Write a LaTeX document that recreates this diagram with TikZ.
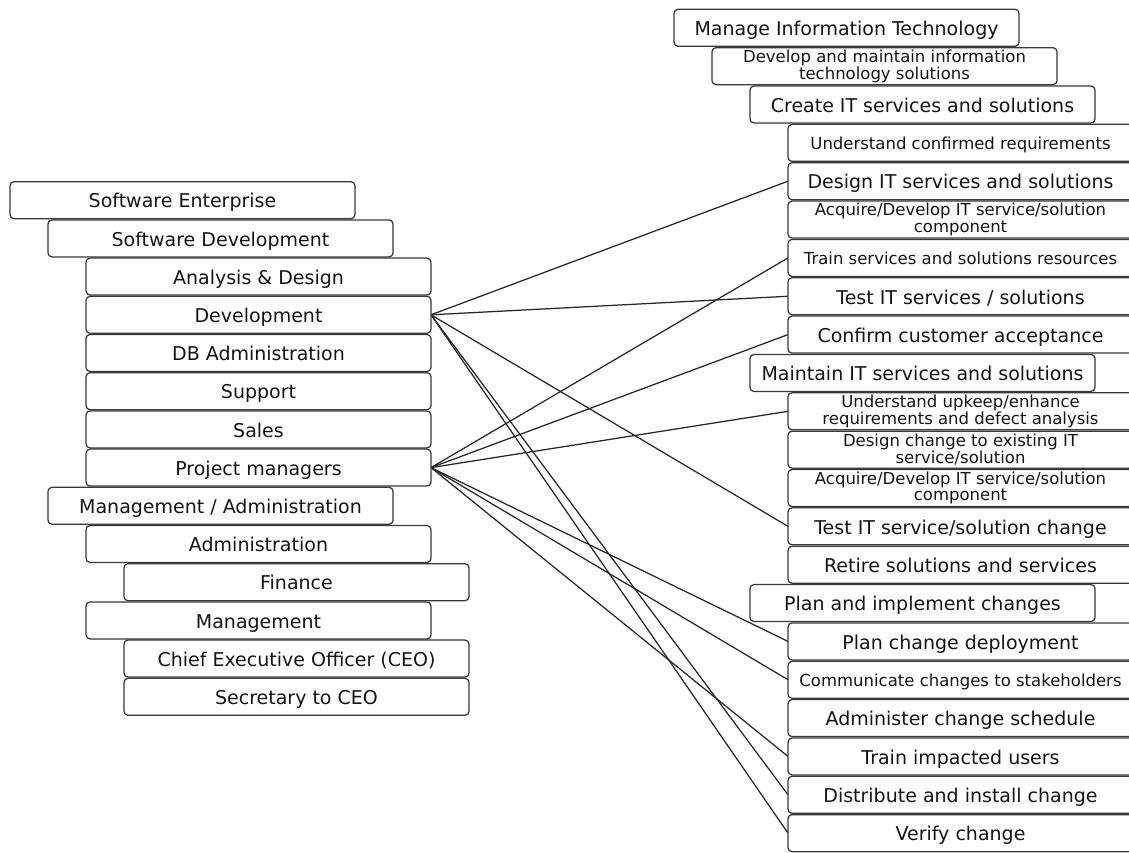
\documentclass[tikz,border=0pt]{standalone}
\usepackage{fontspec}
\setmainfont{DejaVu Sans}
\usetikzlibrary{backgrounds}
\definecolor{boxline}{HTML}{383838}
\definecolor{textcol}{HTML}{141414}
\definecolor{linecol}{HTML}{262626}
\begin{document}
\begin{tikzpicture}[x=1pt,y=-1pt,
  box/.style={draw=boxline, fill=white, rounded corners=4pt, line width=1.25pt,
    minimum width=345pt, minimum height=37pt, inner sep=0pt, outer sep=0pt,
    anchor=north west, align=center, text=textcol,
    font=\fontsize{19}{21}\selectfont},
  one/.style={box, text height=15.5pt, text depth=0pt},
  onesmall/.style={box, font=\fontsize{16.5}{17}\selectfont, text height=13pt, text depth=0pt},
  two/.style={box, font=\fontsize{16.5}{16.8}\selectfont},
  link/.style={draw=linecol, line width=1.25pt}]
\useasboundingbox (0,0) rectangle (1129,852);
\clip (0,0) rectangle (1129,852);

% organisation units (left)
\newcommand{\lrow}[1]{181.7+38.2*#1}
\node[one] (se)   at (10,  {\lrow{0}})  {Software Enterprise};
\node[one] (sd)   at (48,  {\lrow{1}})  {Software Development};
\node[one] (ad)   at (86,  {\lrow{2}})  {Analysis \& Design};
\node[one] (dev)  at (86,  {\lrow{3}})  {Development};
\node[one] (db)   at (86,  {\lrow{4}})  {DB Administration};
\node[one] (sup)  at (86,  {\lrow{5}})  {Support};
\node[one] (sal)  at (86,  {\lrow{6}})  {Sales};
\node[one] (pm)   at (86,  {\lrow{7}})  {Project managers};
\node[one] (ma)   at (48,  {\lrow{8}})  {Management / Administration};
\node[one] (adm)  at (86,  {\lrow{9}})  {Administration};
\node[one] (fin)  at (124, {\lrow{10}}) {Finance};
\node[one] (mgt)  at (86,  {\lrow{11}}) {Management};
\node[one] (ceo)  at (124, {\lrow{12}}) {Chief Executive Officer (CEO)};
\node[one] (sec)  at (124, {\lrow{13}}) {Secretary to CEO};

% process hierarchy (right)
\newcommand{\rrow}[1]{9.3+38.35*#1}
\node[one] (p0)  at (674, {\rrow{0}})  {Manage Information Technology};
\node[two] (p1)  at (712, {\rrow{1}})  {Develop and maintain information\\technology solutions};
\node[one] (p2)  at (750, {\rrow{2}})  {Create IT services and solutions};
\node[onesmall] (p3)  at (788, {\rrow{3}})  {Understand confirmed requirements};
\node[one] (p4)  at (788, {\rrow{4}})  {Design IT services and solutions};
\node[two] (p5)  at (788, {\rrow{5}})  {Acquire/Develop IT service/solution\\component};
\node[onesmall] (p6)  at (788, {\rrow{6}})  {Train services and solutions resources};
\node[one] (p7)  at (788, {\rrow{7}})  {Test IT services / solutions};
\node[one] (p8)  at (788, {\rrow{8}})  {Confirm customer acceptance};
\node[one] (p9)  at (750, {\rrow{9}})  {Maintain IT services and solutions};
\node[two] (p10) at (788, {\rrow{10}}) {Understand upkeep/enhance\\requirements and defect analysis};
\node[two] (p11) at (788, {\rrow{11}}) {Design change to existing IT\\service/solution};
\node[two] (p12) at (788, {\rrow{12}}) {Acquire/Develop IT service/solution\\component};
\node[one] (p13) at (788, {\rrow{13}}) {Test IT service/solution change};
\node[one] (p14) at (788, {\rrow{14}}) {Retire solutions and services};
\node[one] (p15) at (750, {\rrow{15}}) {Plan and implement changes};
\node[one] (p16) at (788, {\rrow{16}}) {Plan change deployment};
\node[onesmall] (p17) at (788, {\rrow{17}}) {Communicate changes to stakeholders};
\node[one] (p18) at (788, {\rrow{18}}) {Administer change schedule};
\node[one] (p19) at (788, {\rrow{19}}) {Train impacted users};
\node[one] (p20) at (788, {\rrow{20}}) {Distribute and install change};
\node[one] (p21) at (788, {\rrow{21}}) {Verify change};

% responsibilities
\begin{scope}[on background layer]
  \foreach \t in {p4,p7,p13,p20,p21}
    \draw[link] (dev.east) -- (\t.west);
  \foreach \t in {p6,p8,p10,p16,p17,p19}
    \draw[link] (pm.east) -- (\t.west);
\end{scope}
\end{tikzpicture}
\end{document}
